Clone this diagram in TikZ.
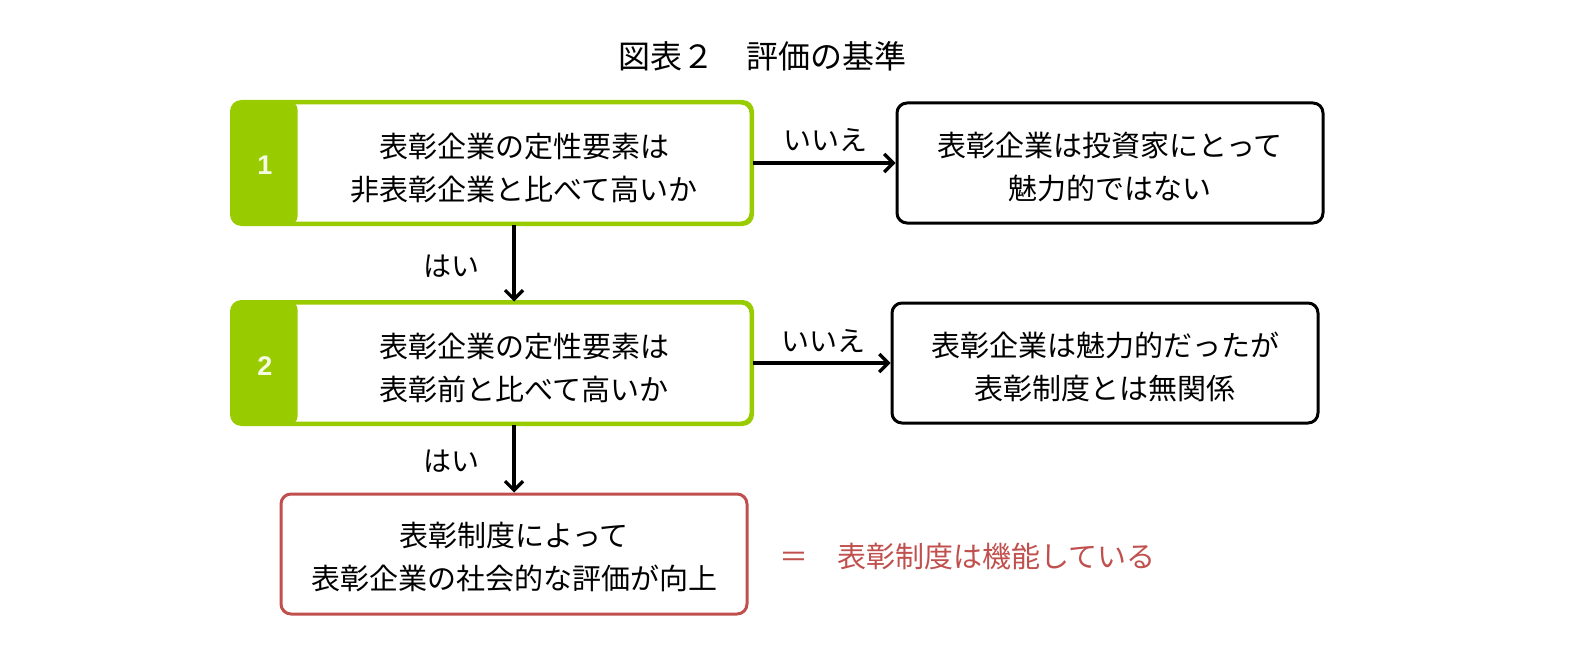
\documentclass[tikz,border=0pt]{standalone}
\usepackage{fontspec}
\setmainfont{Noto Sans CJK JP}
\newfontfamily\numfont{Liberation Sans}
\usetikzlibrary{arrows.meta}
\definecolor{tabgreen}{RGB}{153,204,0}
\definecolor{redbox}{RGB}{192,80,77}
\begin{document}
\begin{tikzpicture}[x=1pt,y=-1pt,
  box/.style={draw, rounded corners=10pt, line width=3pt, inner sep=0pt, minimum height=120pt},
  txt/.style={align=center, font=\fontsize{29}{43}\selectfont},
  lbl/.style={font=\fontsize{28}{34}\selectfont},
  num/.style={text=white!90!tabgreen, font=\numfont\bfseries\fontsize{27}{30}\selectfont},
  arr/.style={line width=3.2pt, -{Straight Barb[length=9pt,width=18pt,line width=3.2pt]}}
]
\useasboundingbox (0,0) rectangle (1590,658);
% title
\node[font=\fontsize{32}{36}\selectfont] (title) at (762,56) {図表２　評価の基準};
% boxes
\node[box, draw=tabgreen, minimum width=518pt] (b1) at (492,163) {};
\node[box, draw=tabgreen, minimum width=518pt] (b2) at (492,363) {};
\foreach \b in {b1,b2}{
  \begin{scope}
    \clip[rounded corners=10pt] (\b.north west) rectangle (\b.south east);
    \fill[tabgreen, rounded corners=8pt] ([xshift=-10pt]\b.north west) rectangle ([xshift=66pt]\b.south west);
  \end{scope}
  \draw[tabgreen, line width=3pt, rounded corners=10pt] (\b.north west) rectangle (\b.south east);
}
\node[num] (n1) at (265,165) {1};
\node[num] (n2) at (265,366) {2};
\node[txt] (t1) at (524,168) {表彰企業の定性要素は\\非表彰企業と比べて高いか};
\node[txt] (t2) at (524,368) {表彰企業の定性要素は\\表彰前と比べて高いか};
\node[box, draw=black, minimum width=426pt] (r1) at (1110,163) {};
\node[txt] (rt1) at (1110,167) {表彰企業は投資家にとって\\魅力的ではない};
\node[box, draw=black, minimum width=426pt] (r2) at (1105,363) {};
\node[txt] (rt2) at (1105,367) {表彰企業は魅力的だったが\\表彰制度とは無関係};
\node[box, draw=redbox, minimum width=466pt] (e) at (514,554) {};
\node[txt] (et) at (514,557) {表彰制度によって\\表彰企業の社会的な評価が向上};
\node[lbl, text=redbox, anchor=west, font=\fontsize{29}{34}\selectfont] (res) at (776,556) {＝　表彰制度は機能している};
% connectors
\draw[arr] (b1.east) -- (r1.west);
\draw[arr] (b2.east) -- (r2.west);
\draw[arr] (b1.south -| e.north) -- (b2.north -| e.north);
\draw[arr] (b2.south -| e.north) -- (e.north);
% labels
\node[lbl] (no1) at (825,140) {いいえ};
\node[lbl] (no2) at (823,341) {いいえ};
\node[lbl] (y1) at (451,266) {はい};
\node[lbl] (y2) at (451,461) {はい};
\end{tikzpicture}
\end{document}
